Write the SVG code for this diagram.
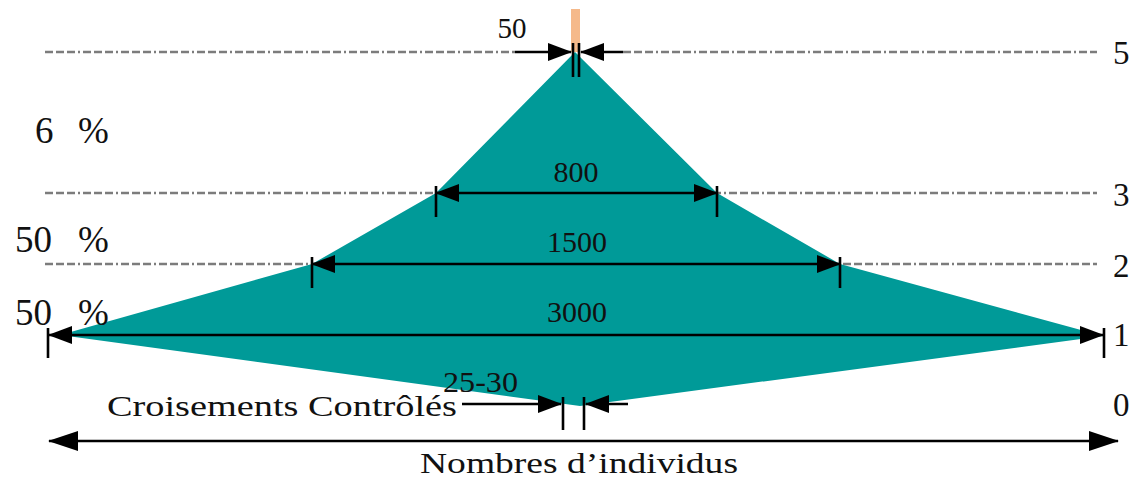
<svg xmlns="http://www.w3.org/2000/svg" width="1132" height="479" viewBox="0 0 1132 479">
<style>
.dash{stroke:#7c7c7c;stroke-width:2.6;fill:none;stroke-dasharray:8 3 8 3 8 3 2 3}
.dim{stroke:#000;stroke-width:2.6;fill:none}
.tick{stroke:#000;stroke-width:2.6}
.t{font-family:"Liberation Serif","DejaVu Serif",serif;fill:#111}
</style>
<defs>
<marker id="ah" viewBox="0 0 24 18" markerWidth="24" markerHeight="18" refX="23" refY="9" orient="auto-start-reverse" markerUnits="userSpaceOnUse">
<path d="M0,0 L24,9 L0,18 z" fill="#000"/>
</marker>
<marker id="ahb" viewBox="0 0 30 20" markerWidth="30" markerHeight="20" refX="29" refY="10" orient="auto-start-reverse" markerUnits="userSpaceOnUse">
<path d="M0,0 L30,10 L0,20 z" fill="#000"/>
</marker>
</defs>
<g id="levels">
<line class="dash" x1="45" y1="52" x2="515" y2="52"/>
<line class="dash" x1="623" y1="52" x2="1097" y2="52"/>
<line class="dash" x1="45" y1="193" x2="1097" y2="193"/>
<line class="dash" x1="45" y1="264" x2="1097" y2="264"/>
</g>
<g id="pyramid">
<polygon points="575,52 436,193 312,264 60,335 580,406 1103,336 840,264 717,193" fill="#009a98"/>
</g>
<g id="top-bar">
<rect x="571" y="9" width="9" height="43" fill="#f5b98a"/>
</g>
<g id="connectors">
<line class="dim" x1="515" y1="52" x2="571" y2="52" marker-end="url(#ah)"/>
<line class="dim" x1="623" y1="52" x2="581" y2="52" marker-end="url(#ah)"/>
<line class="tick" x1="573" y1="43" x2="573" y2="77"/>
<line class="tick" x1="579" y1="43" x2="579" y2="77"/>
<line class="dim" x1="436" y1="193" x2="717" y2="193" marker-start="url(#ah)" marker-end="url(#ah)"/>
<line class="tick" x1="436" y1="186" x2="436" y2="217"/>
<line class="tick" x1="717" y1="186" x2="717" y2="217"/>
<line class="dim" x1="312" y1="264" x2="840" y2="264" marker-start="url(#ah)" marker-end="url(#ah)"/>
<line class="tick" x1="312" y1="257" x2="312" y2="288"/>
<line class="tick" x1="840" y1="257" x2="840" y2="288"/>
<line class="dim" x1="49" y1="335" x2="1103" y2="335" marker-start="url(#ah)" marker-end="url(#ah)"/>
<line class="tick" x1="48" y1="328" x2="48" y2="358"/>
<line class="tick" x1="1104" y1="328" x2="1104" y2="358"/>
<line class="dim" x1="462" y1="404" x2="561" y2="404" marker-end="url(#ah)"/>
<line class="dim" x1="628" y1="404" x2="586" y2="404" marker-end="url(#ah)"/>
<line class="tick" x1="563" y1="397" x2="563" y2="430"/>
<line class="tick" x1="584" y1="397" x2="584" y2="430"/>
<line class="dim" x1="49" y1="441" x2="1118" y2="441" marker-start="url(#ahb)" marker-end="url(#ahb)"/>
</g>
<g id="labels">
<text class="t" x="512" y="38" font-size="29" text-anchor="middle">50</text>
<text class="t" x="576" y="182" font-size="30" text-anchor="middle">800</text>
<text class="t" x="577" y="252" font-size="30" text-anchor="middle">1500</text>
<text class="t" x="577" y="322" font-size="30" text-anchor="middle">3000</text>
<text class="t" x="443" y="392" font-size="29" textLength="75" lengthAdjust="spacingAndGlyphs">25-30</text>
<text class="t" x="107" y="416" font-size="30" textLength="350" lengthAdjust="spacingAndGlyphs">Croisements Contrôlés</text>
<text class="t" x="420" y="473" font-size="30" textLength="318" lengthAdjust="spacingAndGlyphs">Nombres d’individus</text>
<text class="t" x="35" y="143" font-size="37">6</text>
<text class="t" x="78" y="143" font-size="37">%</text>
<text class="t" x="15" y="252" font-size="37">50</text>
<text class="t" x="78" y="252" font-size="37">%</text>
<text class="t" x="15" y="325" font-size="37">50</text>
<text class="t" x="78" y="325" font-size="37">%</text>
<text class="t" x="1113" y="64" font-size="33">5</text>
<text class="t" x="1113" y="206" font-size="33">3</text>
<text class="t" x="1113" y="277" font-size="33">2</text>
<text class="t" x="1113" y="346" font-size="33">1</text>
<text class="t" x="1113" y="416" font-size="33">0</text>
</g>
</svg>
